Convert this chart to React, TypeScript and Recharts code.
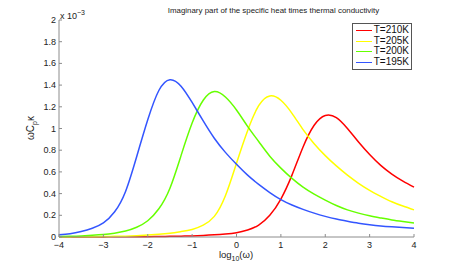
import React from 'react';
import { LineChart, Line, XAxis, YAxis } from 'recharts';

// log10(omega) sample points
const LOG_OMEGA = [
  -4, -3.75, -3.5, -3.25, -3, -2.75, -2.5, -2.25, -2, -1.75, -1.5, -1.25, -1, -0.75, -0.5, -0.25,
  0, 0.25, 0.5, 0.75, 1, 1.25, 1.5, 1.75, 2, 2.25, 2.5, 2.75, 3, 3.25, 3.5, 3.75, 4,
];

// values in units of 1e-3
const T210 = [
  0, 0, 0.001, 0.001, 0.001, 0.002, 0.002, 0.003, 0.003, 0.005, 0.006, 0.008, 0.01, 0.014, 0.02, 0.028,
  0.04, 0.065, 0.11, 0.2, 0.35, 0.57, 0.83, 1.03, 1.12, 1.1, 1.0, 0.875, 0.76, 0.66, 0.58, 0.515, 0.46,
];
const T205 = [
  0, 0.001, 0.002, 0.003, 0.004, 0.006, 0.008, 0.012, 0.018, 0.025, 0.035, 0.05, 0.07, 0.11, 0.19, 0.38,
  0.68, 0.98, 1.21, 1.3, 1.26, 1.14, 0.99, 0.86, 0.75, 0.655, 0.57, 0.495, 0.43, 0.375, 0.325, 0.285, 0.25,
];
const T200 = [
  0.005, 0.007, 0.01, 0.015, 0.022, 0.035, 0.055, 0.09, 0.15, 0.26, 0.45, 0.75, 1.05, 1.26, 1.34, 1.29,
  1.17, 1.02, 0.88, 0.745, 0.635, 0.54, 0.46, 0.395, 0.34, 0.29, 0.25, 0.22, 0.195, 0.175, 0.157, 0.143, 0.13,
];
const T195 = [
  0.02, 0.03, 0.05, 0.08, 0.13, 0.23, 0.42, 0.74, 1.08, 1.35, 1.45, 1.39, 1.24, 1.07, 0.91, 0.78,
  0.67, 0.57, 0.485, 0.41, 0.345, 0.295, 0.255, 0.22, 0.19, 0.165, 0.145, 0.127, 0.113, 0.102, 0.094, 0.087, 0.08,
];

const X_TICKS = [-4, -3, -2, -1, 0, 1, 2, 3, 4];
const Y_TICKS = [0, 0.2, 0.4, 0.6, 0.8, 1, 1.2, 1.4, 1.6, 1.8, 2];

const SERIES = [
  { key: 't210', name: 'T=210K', color: '#ff0000' },
  { key: 't205', name: 'T=205K', color: '#ffff00' },
  { key: 't200', name: 'T=200K', color: '#66ff00' },
  { key: 't195', name: 'T=195K', color: '#3355ff' },
];

const data = LOG_OMEGA.map((x, i) => ({
  x,
  t210: T210[i],
  t205: T205[i],
  t200: T200[i],
  t195: T195[i],
}));

const FONT = '"Liberation Sans", Arial, Helvetica, sans-serif';
const AXIS = '#8c8c8c';

const fmt = (v: number) => (v < 0 ? '\u2212' + Math.abs(v) : String(v));

function YTick({ x, y, payload }: any) {
  return (
    <g>
      <line x1={x + 2} x2={x + 5} y1={y} y2={y} stroke={AXIS} />
      <text x={x - 1} y={y} dy={3} textAnchor="end" fontSize={9} fill="#222" fontFamily={FONT}>
        {fmt(payload.value)}
      </text>
    </g>
  );
}

function XTick({ x, y, payload }: any) {
  return (
    <g>
      <line x1={x} x2={x} y1={y - 2} y2={y - 5} stroke={AXIS} />
      <text x={x} y={y} dy={9} textAnchor="middle" fontSize={9} fill="#222" fontFamily={FONT}>
        {fmt(payload.value)}
      </text>
    </g>
  );
}

export default function App() {
  return (
    <div style={{ position: 'absolute', left: 0, top: 0, width: 457, height: 267, background: '#fff', fontFamily: FONT }}>
      <LineChart width={457} height={267} data={data} margin={{ top: 20, right: 43, bottom: 0, left: 0 }}>
        <XAxis
          dataKey="x"
          type="number"
          domain={[-4, 4]}
          ticks={X_TICKS}
          interval={0}
          height={30}
          tickSize={0}
          tickMargin={2}
          stroke={AXIS}
          tick={<XTick />}
        />
        <YAxis
          type="number"
          domain={[0, 2]}
          ticks={Y_TICKS}
          interval={0}
          width={59}
          tickSize={0}
          tickMargin={2}
          stroke={AXIS}
          tick={<YTick />}
        />
        {SERIES.map((s) => (
          <Line
            key={s.key}
            type="natural"
            dataKey={s.key}
            name={s.name}
            stroke={s.color}
            strokeWidth={1.5}
            dot={false}
            isAnimationActive={false}
          />
        ))}
      </LineChart>

      {/* legend */}
      <div
        style={{
          position: 'absolute',
          left: 352,
          top: 23,
          width: 53,
          border: '1px solid #555',
          background: '#fff',
          padding: '1px 2px 1px 3px',
          fontSize: 10,
          lineHeight: '10.7px',
          color: '#111',
        }}
      >
        {SERIES.map((s) => (
          <div key={s.key} style={{ display: 'flex', alignItems: 'center' }}>
            <span style={{ display: 'inline-block', width: 17, height: 0, borderTop: `1.5px solid ${s.color}`, marginRight: 2 }} />
            <span>{s.name}</span>
          </div>
        ))}
      </div>

      <div style={{ position: 'absolute', left: 0, width: 547, top: 6, textAlign: 'center', fontSize: 7.9, color: '#222', whiteSpace: 'nowrap' }}>
        Imaginary part of the specific heat times thermal conductivity
      </div>
      <div style={{ position: 'absolute', left: 60, top: 9, fontSize: 9, color: '#222', whiteSpace: 'nowrap' }}>
        x 10<sup style={{ fontSize: 7, verticalAlign: 4 }}>{'\u22123'}</sup>
      </div>
      <div
        style={{
          position: 'absolute',
          left: 31,
          top: 128,
          transform: 'translate(-50%, -50%) rotate(-90deg)',
          fontSize: 10,
          color: '#222',
          whiteSpace: 'nowrap',
        }}
      >
        ωC<sub style={{ fontSize: 7 }}>p</sub>κ
      </div>
      <div style={{ position: 'absolute', left: 236, top: 249, transform: 'translateX(-50%)', fontSize: 9.5, color: '#222', whiteSpace: 'nowrap' }}>
        log<sub style={{ fontSize: 7 }}>10</sub>(ω)
      </div>
    </div>
  );
}
